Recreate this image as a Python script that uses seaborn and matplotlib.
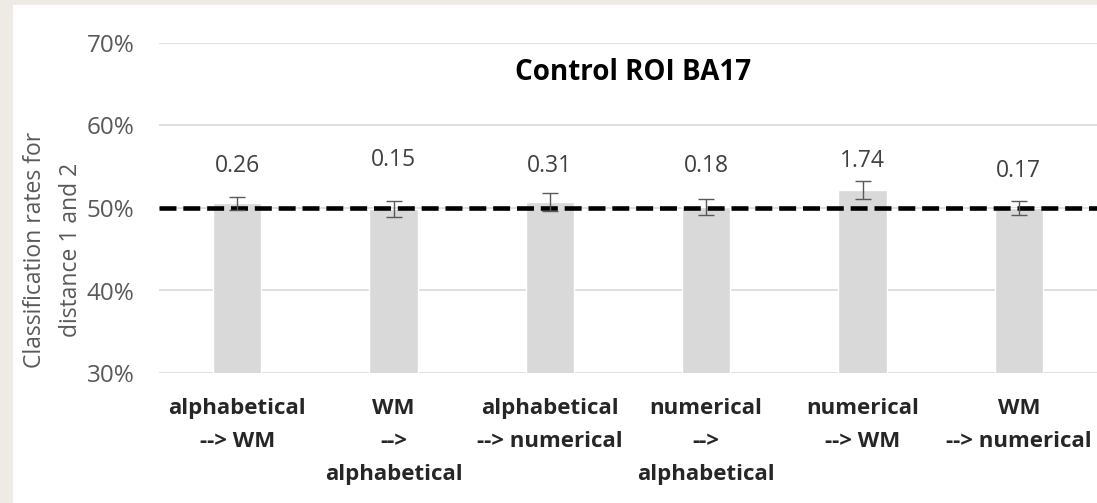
import matplotlib
matplotlib.use("Agg")
import matplotlib.pyplot as plt
import seaborn as sns
import pandas as pd

# ---- data ----
categories = [
    "alphabetical\n--> WM",
    "WM\n-->\nalphabetical",
    "alphabetical\n--> numerical",
    "numerical\n-->\nalphabetical",
    "numerical\n--> WM",
    "WM\n--> numerical",
]
rates = [0.5055, 0.499, 0.5075, 0.5015, 0.522, 0.500]
errors = [0.008, 0.010, 0.011, 0.010, 0.011, 0.009]
value_labels = ["0.26", "0.15", "0.31", "0.18", "1.74", "0.17"]
label_heights = [0.5505, 0.558, 0.5505, 0.5505, 0.5575, 0.5445]
yticks = [0.30, 0.40, 0.50, 0.60, 0.70]
ytick_labels = ["30%", "40%", "50%", "60%", "70%"]
chance = 0.50

sns.set_theme(style="white")
plt.rcParams['font.family'] = ['Open Sans', 'DejaVu Sans']

fig = plt.figure(figsize=(10.97, 5.03), dpi=100, facecolor="#EEEBE4")
# white panel
fig.patches.append(plt.Rectangle((13/1097, 0), 1, 1 - 5/503, transform=fig.transFigure,
                                 facecolor="white", edgecolor="none", zorder=-10))
ax = fig.add_axes([159/1097, 130/503, 1 - 159/1097, 330/503])
ax.set_facecolor("none")
ax.set_zorder(1)

df = pd.DataFrame({"cat": categories, "rate": rates})
sns.barplot(data=df, x="cat", y="rate", color="#D9D9D9", saturation=1, width=0.31,
            ax=ax, zorder=2)
ax.errorbar(range(len(categories)), rates, yerr=errors, fmt="none", ecolor="#595959",
            elinewidth=1.0, capsize=5.5, capthick=1.0, zorder=4)

ax.set_ylim(0.30, 0.70)
ax.set_xlim(-0.5, len(categories) - 0.5)
ax.set_yticks(yticks)
ax.set_yticklabels(ytick_labels, color="#595959", fontsize=17.5)
ax.yaxis.grid(True, color="#D9D9D9", linewidth=1.2, zorder=0)
ax.set_axisbelow(True)
for s in ax.spines.values():
    s.set_visible(False)
ax.tick_params(axis="x", length=0, pad=18)
ax.tick_params(axis="y", length=0, pad=17.5)

ax.axhline(chance, color="black", linewidth=3.3, linestyle=(0, (3.7, 1.5)), zorder=3)

for i, (lab, h) in enumerate(zip(value_labels, label_heights)):
    ax.text(i, h, lab, ha="center", va="center", fontsize=16.5, color="#404040")

ax.set_xticks(range(len(categories)))
ax.set_xticklabels(categories, fontsize=16, fontweight="bold", color="#262626",
                   linespacing=1.76, va="top")
ax.set_xlabel("")
ax.set_ylabel("")

ax.set_title("Control ROI BA17", fontsize=20, fontweight="bold", color="black",
             y=0.864, x=0.505)

fig.text(53/1097, 1 - 250/503, "Classification rates for\ndistance 1 and 2", rotation=90,
         ha="center", va="center", fontsize=16.5, color="#595959", linespacing=1.7)

fig.savefig("out.png", dpi=100, facecolor=fig.get_facecolor())
